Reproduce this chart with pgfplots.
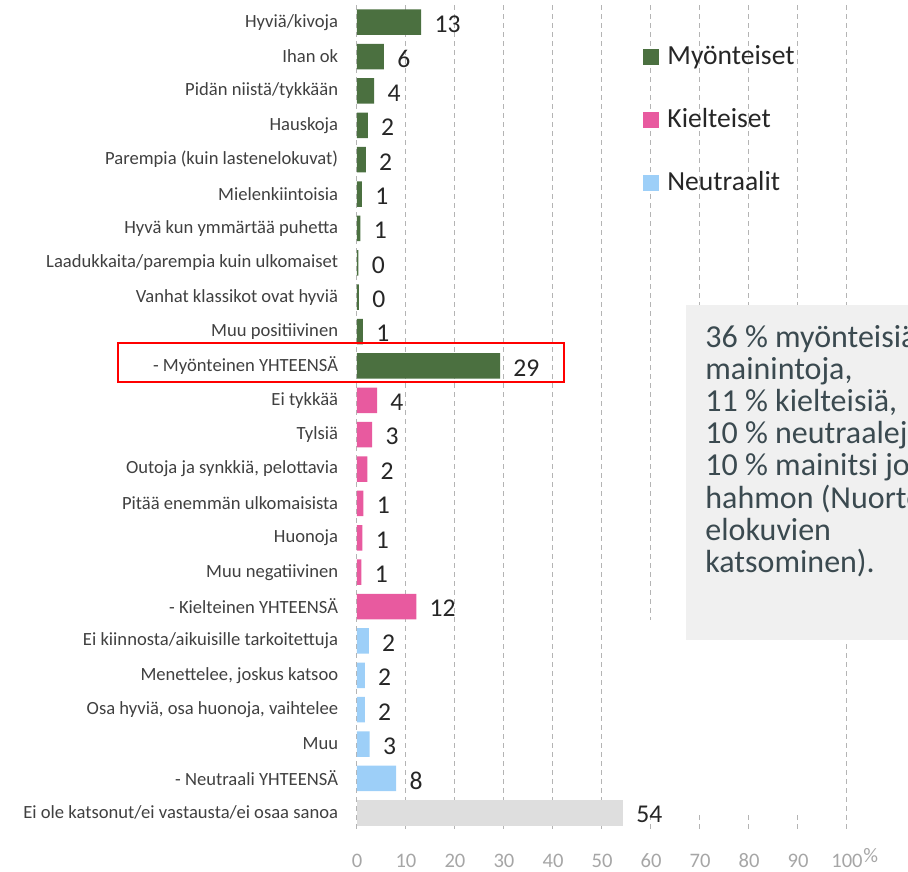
\documentclass[border=0pt]{standalone}
\usepackage{pgfplots}
\pgfplotsset{compat=1.18}
\usepackage{fontspec}
\setmainfont{Carlito}
\definecolor{cgreen}{HTML}{4B7040}
\definecolor{cpink}{HTML}{E85A9F}
\definecolor{cblue}{HTML}{9DCFF8}
\definecolor{cgray}{HTML}{DEDEDE}
\definecolor{cattext}{HTML}{404040}
\definecolor{numtext}{HTML}{262626}
\definecolor{ticktext}{HTML}{A6A6A6}
\definecolor{gridc}{HTML}{B4B4B4}
\definecolor{boxfill}{HTML}{F0F0F0}
\definecolor{boxtext}{HTML}{3B4A50}

\pgfplotstableread{
y x
0 13.1
1 5.5
2 3.5
3 2.2
4 1.8
5 1.0
6 0.7
7 0.3
8 0.4
9 1.2
10 29.2
}\pos
\pgfplotstableread{
y x
11 4.1
12 3.1
13 2.1
14 1.3
15 1.1
16 0.9
17 12.1
}\neg
\pgfplotstableread{
y x
18 2.4
19 1.6
20 1.6
21 2.6
22 8.0
}\neu
\pgfplotstableread{
y x
23 54.3
}\none

\begin{document}
\begin{tikzpicture}
\useasboundingbox (-178.5bp,-21bp) rectangle (275.5bp,415bp);
\clip (-178.5bp,-21bp) rectangle (275.5bp,415bp);
\begin{axis}[
  at={(0,0)}, anchor=south west,
  width=245bp, height=412.5bp, scale only axis,
  xmin=0, xmax=100, ymin=-0.5, ymax=23.5,
  y dir=reverse,
  xbar, bar width=12.8bp, bar shift=0pt,
  axis line style={draw=none},
  tick style={draw=none},
  xtick={0,10,...,100},
  ytick={0,...,23},
  yticklabels={Hyviä/kivoja, Ihan ok, Pidän niistä/tykkään, Hauskoja,
    {Parempia (kuin lastenelokuvat)}, Mielenkiintoisia, Hyvä kun ymmärtää puhetta,
    Laadukkaita/parempia kuin ulkomaiset, Vanhat klassikot ovat hyviä,
    Muu positiivinen, - Myönteinen YHTEENSÄ, Ei tykkää, Tylsiä,
    {Outoja ja synkkiä, pelottavia}, Pitää enemmän ulkomaisista, Huonoja,
    Muu negatiivinen, - Kielteinen YHTEENSÄ, Ei kiinnosta/aikuisille tarkoitettuja,
    {Menettelee, joskus katsoo}, {Osa hyviä, osa huonoja, vaihtelee}, Muu,
    - Neutraali YHTEENSÄ, Ei ole katsonut/ei vastausta/ei osaa sanoa},
  yticklabel style={font=\fontsize{9.3bp}{11bp}\selectfont, text=cattext,
    inner sep=0pt, anchor=east, xshift=-5bp},
  xticklabel style={font=\fontsize{10.3bp}{12bp}\selectfont, text=ticktext,
    inner sep=0pt, anchor=center, yshift=-15.5bp},
  /pgf/number format/assume math mode=true,
  xmajorgrids,
  grid style={gridc, line width=0.5bp, dash pattern=on 2.5bp off 2bp},
  xlabel={\%},
  xlabel style={at={(rel axis cs:1,0)}, anchor=west, inner sep=0pt,
    xshift=8bp, yshift=-13bp, font=\fontsize{10.3bp}{12bp}\selectfont, text=ticktext},
  point meta=x,
  nodes near coords={\pgfmathprintnumber[fixed,precision=0]{\pgfplotspointmeta}},
  nodes near coords align={horizontal},
  every node near coord/.append style={font=\fontsize{12.8bp}{14bp}\selectfont,
    text=numtext, anchor=west, inner sep=0pt, xshift=6.5bp, yshift=-1bp},
  legend cell align=left,
  legend image code/.code={\fill[#1] (0bp,-3bp) rectangle (8bp,5bp);},
  legend style={at={(rel axis cs:0.5837,0.950)}, anchor=north west,
    draw=none, fill=none, inner sep=0pt, row sep=19.5bp,
    font=\fontsize{13.8bp}{16bp}\selectfont, text=numtext,
    nodes={inner sep=0pt, text height=9bp, text depth=3bp},
    /tikz/every odd column/.append style={column sep=4bp}},
]
\fill[white] (rel axis cs:0.506,0.255) rectangle (rel axis cs:0.996,0.021);
\addplot[fill=cgreen, draw=none] table[x=x,y=y] {\pos};
\addlegendentry{Myönteiset}
\addplot[fill=cpink, draw=none] table[x=x,y=y] {\neg};
\addlegendentry{Kielteiset}
\addplot[fill=cblue, draw=none] table[x=x,y=y] {\neu};
\addlegendentry{Neutraalit}
\addplot[fill=cgray, draw=none, forget plot] table[x=x,y=y] {\none};
\end{axis}
\draw[red, line width=0.8bp] (-119.5bp,224bp) rectangle (103.5bp,243.5bp);
\fill[boxfill] (164.5bp,95bp) rectangle (300bp,262.5bp);
\foreach \t [count=\i from 0] in {{36 \% myönteisiä}, {mainintoja,}, {11 \% kielteisiä,},
  {10 \% neutraaleja,}, {10 \% mainitsi jonkin}, {hahmon (Nuorten}, {elokuvien}, {katsominen).}}
  \node[anchor=base west, inner sep=0pt, text=boxtext,
    font=\fontsize{16bp}{16bp}\selectfont] at (174bp,241.3bp-\i*16.07bp) {\t};
\end{tikzpicture}
\end{document}
